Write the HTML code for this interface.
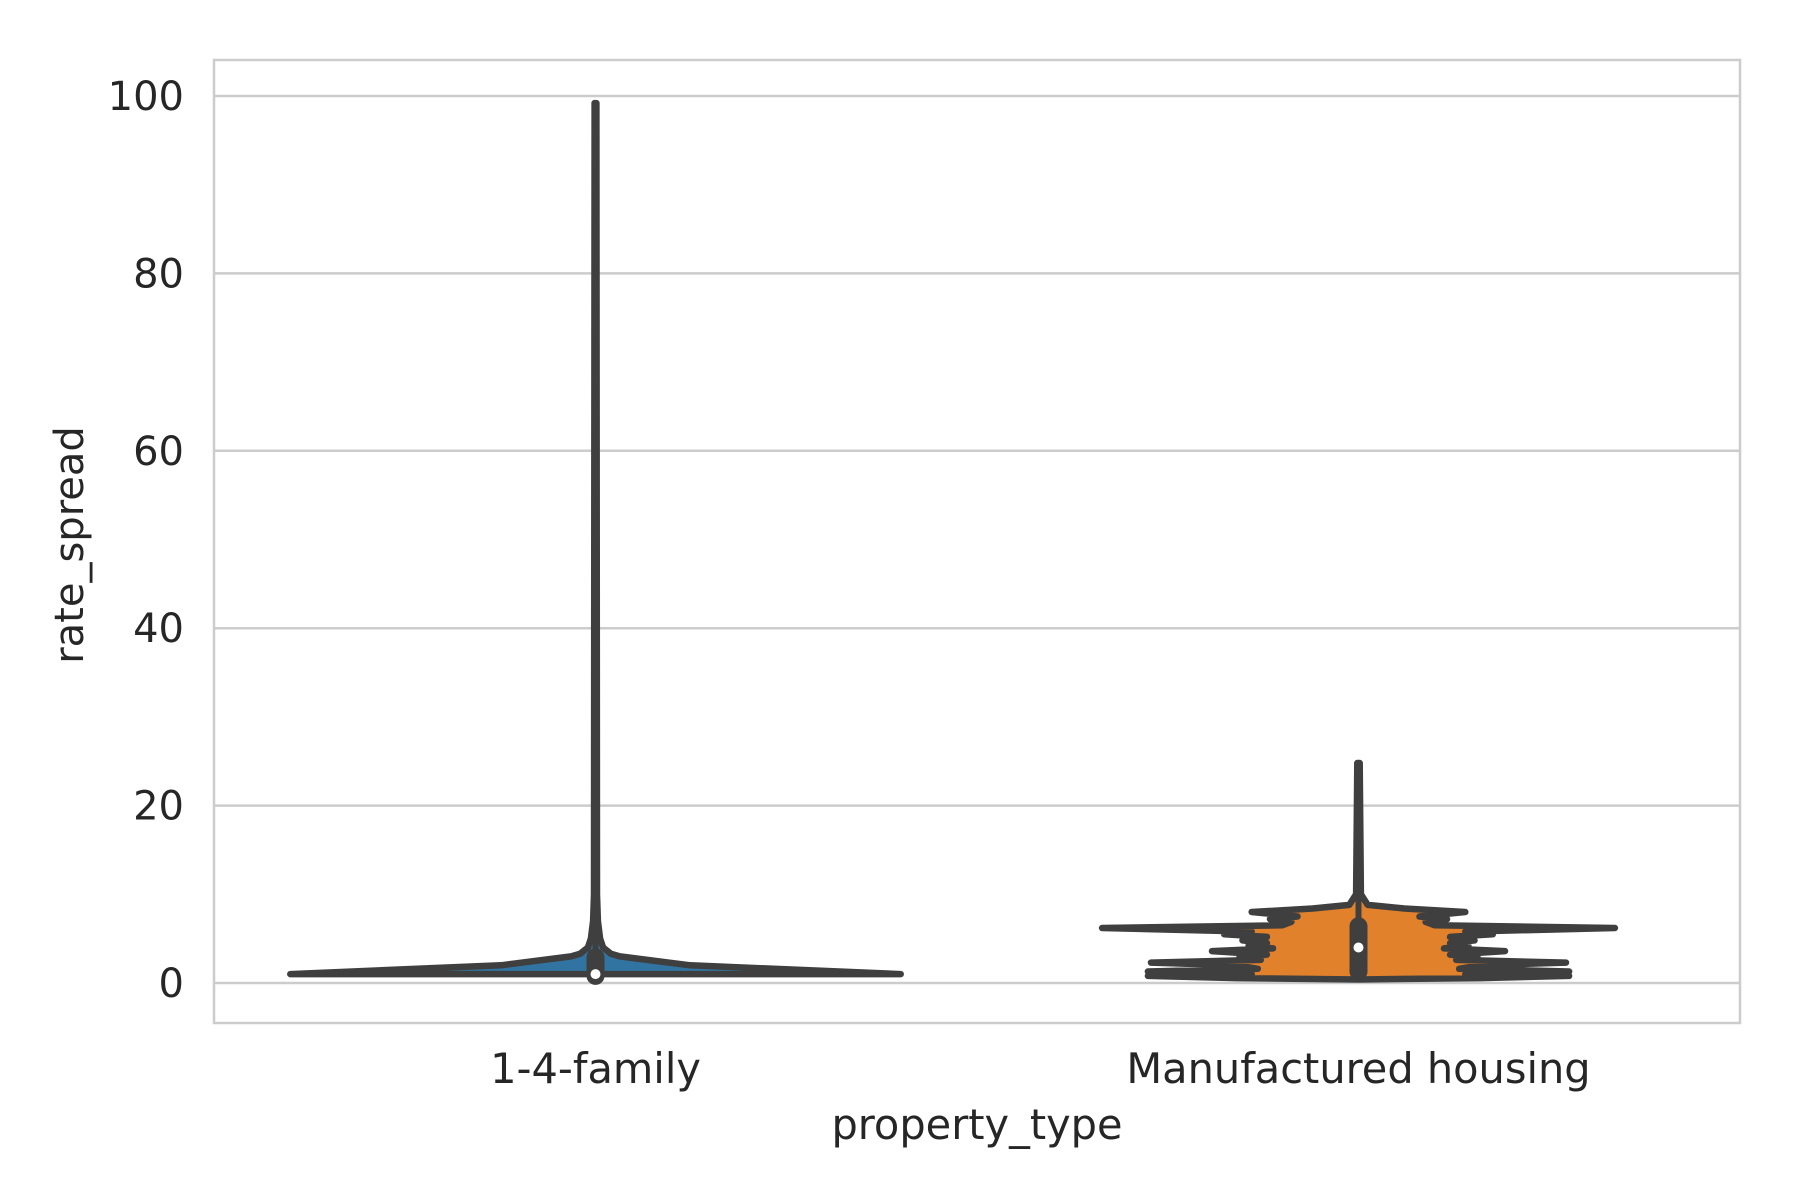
<!DOCTYPE html>
<html><head><meta charset="utf-8"><style>
html,body{margin:0;padding:0;background:#fff}
svg{display:block}
text{font-family:"DejaVu Sans","Liberation Sans",sans-serif;fill:#262626}
</style></head><body>
<svg id="chart" width="1800" height="1200" viewBox="0 0 1800 1200" xmlns="http://www.w3.org/2000/svg">
<rect x="0" y="0" width="1800" height="1200" fill="#fff"/>
<g id="grid"></g>
<rect x="214" y="60" width="1526" height="963" fill="none" stroke="#cccccc" stroke-width="2.5"/>
<g id="violins"></g>
<g id="yticks"></g>
<g id="xticks"></g>
<text x="977" y="1139" font-size="41.5" text-anchor="middle">property_type</text>
<text x="0" y="0" font-size="40" text-anchor="middle" transform="translate(83,545) rotate(-90)">rate_spread</text>
</svg>
<script>
const categories = ["1-4-family", "Manufactured housing"];
const colors = ["#3274a1", "#e1812c"];
const yTicks = [0, 20, 40, 60, 80, 100];
// density profiles: values and relative half-widths
const famValues = [1.0, 2.0, 3.0, 3.3, 4, 5, 7, 10, 99.2];
const famDensity = [1.0, 0.31, 0.08, 0.05, 0.025, 0.015, 0.008, 0.005, 0.003];
const mfgValues = [0.4, 0.55, 0.8, 1.0, 1.3, 1.6, 2.0, 2.3, 2.6, 2.9, 3.2, 3.6, 3.9, 4.2, 4.5, 4.8, 5.2, 5.5, 5.8, 6.2, 6.5, 6.9, 7.2, 7.5, 8.0, 8.4, 8.8, 10, 24.8];
const mfgDensity = [0, 0.4, 0.69, 0.35, 0.69, 0.33, 0.4, 0.68, 0.32, 0.39, 0.3, 0.48, 0.28, 0.36, 0.3, 0.38, 0.3, 0.44, 0.35, 0.84, 0.25, 0.22, 0.29, 0.2, 0.35, 0.15, 0.03, 0.008, 0.004];
// box stats: q1, median, q3, whisker max
const famBox = [0.8, 1.0, 2.9, 99.2];
const mfgBox = [1.3, 4.0, 6.4, 24.8];

const NS = "http://www.w3.org/2000/svg";
const L = 214, R = 1740, Y0 = 983, Y100 = 96;
const y = v => Y0 + (Y100 - Y0) * v / 100;
const band = (R - L) / categories.length;
const xc = i => L + band * (i + 0.5);
const halfMax = band * 0.4;

function mk(tag, attrs, parent) {
  const e = document.createElementNS(NS, tag);
  for (const k in attrs) e.setAttribute(k, attrs[k]);
  parent.appendChild(e);
  return e;
}
const grid = document.getElementById("grid");
const yt = document.getElementById("yticks");
yTicks.forEach(t => {
  const ln = mk("line", {x1: L, x2: R, y1: y(t), y2: y(t), stroke: "#cccccc", "stroke-width": 2.5}, grid);
  
  
  const tx = mk("text", {x: 184, y: y(t) + 14, "font-size": 40, "text-anchor": "end"}, yt);
  tx.textContent = t;
  
  
});
const xt = document.getElementById("xticks");
categories.forEach((c, i) => {
  const tx = mk("text", {x: xc(i), y: 1083, "font-size": 41.5, "text-anchor": "middle"}, xt);
  tx.textContent = c;
  
  
});
const vg = document.getElementById("violins");
const profiles = [[famValues, famDensity, famBox], [mfgValues, mfgDensity, mfgBox]];
profiles.forEach((p, i) => {
  const [vals, dens, box] = p;
  const cx = xc(i);
  let pts = [];
  for (let k = 0; k < vals.length; k++) pts.push((cx - dens[k] * halfMax).toFixed(1) + "," + y(vals[k]).toFixed(1));
  for (let k = vals.length - 1; k >= 0; k--) pts.push((cx + dens[k] * halfMax).toFixed(1) + "," + y(vals[k]).toFixed(1));
  const poly = mk("polygon", {points: pts.join(" "), fill: colors[i], stroke: "#3f3f3f", "stroke-width": 6.5, "stroke-linejoin": "round"}, vg);
  
  
  const wh = mk("line", {x1: cx, x2: cx, y1: y(box[0]), y2: y(box[3]), stroke: "#3f3f3f", "stroke-width": 6, "stroke-linecap": "round"}, vg);
  
  
  const bx = mk("line", {x1: cx, x2: cx, y1: y(box[0]), y2: y(box[2]), stroke: "#3f3f3f", "stroke-width": 18, "stroke-linecap": "round"}, vg);
  
  
  const md = mk("circle", {cx: cx, cy: y(box[1]), r: 5, fill: "#fff"}, vg);
  
  
});
</script>
</body></html>
